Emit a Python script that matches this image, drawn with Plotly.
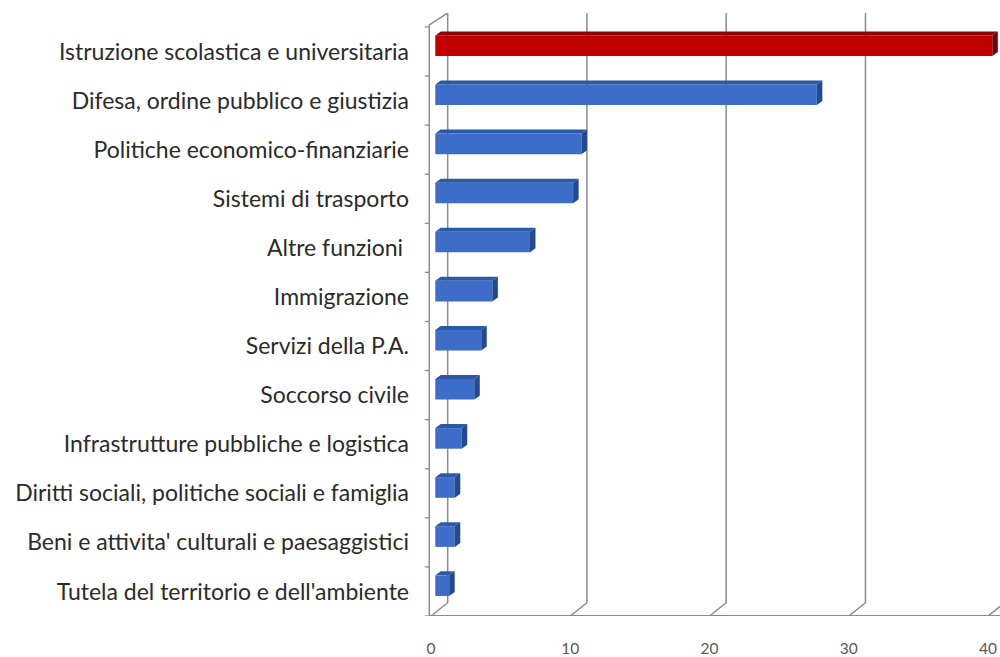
import plotly.graph_objects as go

# Spending categories (top to bottom) and their values
categories = [
    "Istruzione scolastica e universitaria",
    "Difesa, ordine pubblico e giustizia",
    "Politiche economico-finanziarie",
    "Sistemi di trasporto",
    "Altre funzioni ",
    "Immigrazione",
    "Servizi della P.A.",
    "Soccorso civile",
    "Infrastrutture pubbliche e logistica",
    "Diritti sociali, politiche sociali e famiglia",
    "Beni e attivita' culturali e paesaggistici",
    "Tutela del territorio e dell'ambiente",
]
values = [40.0, 27.4, 10.5, 9.9, 6.8, 4.1, 3.3, 2.8, 1.9, 1.4, 1.4, 1.0]
x_ticks = [0, 10, 20, 30, 40]

# Pseudo-3D geometry (in axis units)
PX_X = 13.94            # pixels per x unit
PX_Y = 49.27            # pixels per category
BASE = 4.3 / PX_X       # bars sit a little behind the front plane
BAR_W = 0.42            # front-face thickness
BAR_SHIFT = -0.118      # bars raised slightly by the depth
DX_BAR, DY_BAR = 5.5 / PX_X, 4.0 / PX_Y       # bar depth
DX_WALL, DY_WALL = 16.7 / PX_X, 13.3 / PX_Y   # floor depth
Y_BOTTOM = len(categories) - 0.5
Y_TOP = -0.5 - 14.0 / PX_Y

front_col = ["#C00000"] + ["#3D6DC8"] * (len(values) - 1)
top_col = ["#8E0505"] + ["#2C58A8"] * (len(values) - 1)
cap_col = ["#6E0000"] + ["#24498C"] * (len(values) - 1)

idx = list(range(len(categories)))

fig = go.Figure()
fig.add_trace(go.Bar(
    orientation="h",
    y=idx,
    x=values,
    base=BASE,
    width=BAR_W,
    offset=BAR_SHIFT - BAR_W / 2,
    marker=dict(color=front_col, line=dict(width=0)),
    hoverinfo="x+text",
    hovertext=categories,
))

shapes = []
GRID = "#8C8C8C"

# back-wall gridlines with their slanted floor segments, plus floor ticks
for t in x_ticks:
    shapes.append(dict(
        type="path", layer="below",
        path=f"M {t},{Y_BOTTOM} L {t + DX_WALL},{Y_BOTTOM - DY_WALL} L {t + DX_WALL},{Y_TOP}",
        line=dict(color=GRID, width=1.5),
    ))
    shapes.append(dict(
        type="line", layer="below", xref="x", yref="y",
        x0=t, x1=t, y0=Y_BOTTOM, y1=Y_BOTTOM + 5.0 / PX_Y,
        line=dict(color=GRID, width=1.5),
    ))

# floor front edge
shapes.append(dict(
    type="line", layer="below", x0=-0.15, x1=41, y0=Y_BOTTOM, y1=Y_BOTTOM,
    line=dict(color=GRID, width=1.8),
))
# left front axis with its top slant into the back wall
x_left = -1.7 / PX_X
y_left_top = -0.5 - 2.0 / PX_Y
shapes.append(dict(
    type="path", layer="below",
    path=f"M {x_left},{Y_BOTTOM} L {x_left},{y_left_top} L {DX_WALL},{Y_TOP}",
    line=dict(color=GRID, width=1.5),
))
# category boundary ticks on the left axis
for k in range(len(categories) + 1):
    yb = k - 0.5
    shapes.append(dict(
        type="line", layer="below",
        x0=x_left - 4.5 / PX_X, x1=x_left, y0=yb, y1=yb,
        line=dict(color=GRID, width=1.3),
    ))

# top face and end cap of each bar
for k, v in enumerate(values):
    y_top = k + BAR_SHIFT - BAR_W / 2
    y_bot = k + BAR_SHIFT + BAR_W / 2
    x0 = BASE
    x1 = BASE + v
    shapes.append(dict(
        type="path", layer="above",
        path=(f"M {x0},{y_top} L {x1},{y_top} L {x1 + DX_BAR},{y_top - DY_BAR} "
              f"L {x0 + DX_BAR},{y_top - DY_BAR} Z"),
        fillcolor=top_col[k], line=dict(width=0),
    ))
    shapes.append(dict(
        type="path", layer="above",
        path=(f"M {x1},{y_top} L {x1 + DX_BAR},{y_top - DY_BAR} "
              f"L {x1 + DX_BAR},{y_bot - DY_BAR} L {x1},{y_bot} Z"),
        fillcolor=cap_col[k], line=dict(width=0),
    ))

fig.update_layout(
    width=1000, height=657, autosize=False,
    margin=dict(l=423.7, r=0, t=13, b=38.7, pad=0),
    paper_bgcolor="white", plot_bgcolor="white",
    showlegend=False,
    bargap=0.5,
    shapes=shapes,
    font=dict(family="Lato, 'Open Sans', sans-serif"),
    xaxis=dict(
        range=[-7.0 / PX_X, 40.86],
        tickmode="array", tickvals=x_ticks, ticktext=[str(t) for t in x_ticks],
        showgrid=False, zeroline=False, showline=False, ticks="",
        ticklabelstandoff=21,
        tickfont=dict(size=15.5, color="#595959"),
        fixedrange=True,
    ),
    yaxis=dict(
        range=[Y_BOTTOM, Y_TOP],
        tickmode="array", tickvals=idx, ticktext=categories,
        showgrid=False, zeroline=False, showline=False, ticks="",
        ticklabelstandoff=14,
        tickfont=dict(size=23, color="#2B2B2B"),
        fixedrange=True,
    ),
)

fig.write_html("out.html")
